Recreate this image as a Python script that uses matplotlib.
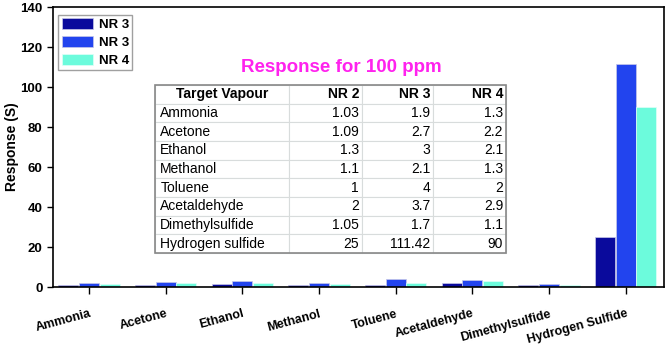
import numpy as np
import matplotlib.pyplot as plt

plt.rcParams['font.family'] = ['Liberation Sans', 'DejaVu Sans']

vapours = ['Ammonia', 'Acetone', 'Ethanol', 'Methanol', 'Toluene',
           'Acetaldehyde', 'Dimethylsulfide', 'Hydrogen Sulfide']
table_names = ['Ammonia', 'Acetone', 'Ethanol', 'Methanol', 'Toluene',
               'Acetaldehyde', 'Dimethylsulfide', 'Hydrogen sulfide']
nr2 = [1.03, 1.09, 1.3, 1.1, 1, 2, 1.05, 25]
nr3 = [1.9, 2.7, 3, 2.1, 4, 3.7, 1.7, 111.42]
nr4 = [1.3, 2.2, 2.1, 1.3, 2, 2.9, 1.1, 90]
legend_labels = ['NR 3', 'NR 3', 'NR 4']
table_header = ['Target Vapour', 'NR 2', 'NR 3', 'NR 4']

fig = plt.figure(figsize=(6.66, 3.48), dpi=100)
ax = fig.add_axes([53/666, 1-287/348, (664-53)/666, (287-7)/348])

x = np.arange(len(vapours))
w = 0.26
ax.bar(x - 0.27, nr2, w, color='#0a0a9c', edgecolor='#c8c8e8', linewidth=0.5, label=legend_labels[0])
ax.bar(x, nr3, w, color='#2244ee', edgecolor='#c8c8e8', linewidth=0.5, label=legend_labels[1])
ax.bar(x + 0.27, nr4, w, color='#6cfbdc', edgecolor='#e0fff8', linewidth=0.5, label=legend_labels[2])

ax.set_xlim(-0.47, 7.5)
ax.set_ylim(0, 140)
ax.set_yticks(range(0, 141, 20))
ax.set_xticks(x)
ax.set_xticklabels(vapours, rotation=15, ha='right', rotation_mode='anchor',
                   fontsize=9, fontweight='bold')
ax.tick_params(axis='y', labelsize=9.5, direction='out', length=4, width=1)
ax.tick_params(axis='x', direction='out', length=5, width=1, pad=10)
for lab in ax.get_yticklabels():
    lab.set_fontweight('bold')
for s in ax.spines.values():
    s.set_linewidth(1.2)
ax.set_ylabel('Response (S)', fontsize=10, fontweight='bold')
ax.yaxis.set_label_coords(-0.056, 0.5)

leg = ax.legend(loc='upper left', bbox_to_anchor=(0.0, 0.99),
                prop={'weight': 'bold', 'size': 9.5}, fancybox=False,
                handlelength=2.4, handleheight=0.9, handletextpad=0.4,
                borderpad=0.25, labelspacing=0.35, borderaxespad=0.4)
leg.get_frame().set_edgecolor('#888888')
leg.get_frame().set_linewidth(1)

ax.text(0.472, 0.785, 'Response for 100 ppm', transform=ax.transAxes,
        color='#ff22ee', fontsize=13.5, fontweight='bold', ha='center', va='center')

cells = [[n, f'{a:g}', f'{b:g}', f'{c:g}'] for n, a, b, c in zip(table_names, nr2, nr3, nr4)]
tb = ax.table(cellText=cells, colLabels=table_header,
              bbox=[(155-53)/611, (287-253)/280, (506-155)/611, (253-85)/280],
              colWidths=[134, 73, 71, 73], cellLoc='right')
tb.auto_set_font_size(False)
tb.set_fontsize(10)
for (r, c), cell in tb.get_celld().items():
    cell.set_edgecolor('#d8dcdc')
    cell.set_linewidth(0.8)
    cell.PAD = 0.04
    if r == 0:
        cell.get_text().set_fontweight('bold')
        cell.get_text().set_ha('center' if c == 0 else 'right')
    elif c == 0:
        cell.get_text().set_ha('left')
tb_outline = plt.Rectangle(((155-53)/611, (287-253)/280), (506-155)/611, (253-85)/280,
                           transform=ax.transAxes, fill=False, edgecolor='#888888',
                           linewidth=1.2, zorder=5)
ax.add_patch(tb_outline)

fig.savefig('out.png', dpi=100)
